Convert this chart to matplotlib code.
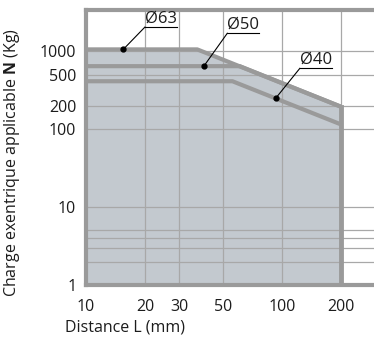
import numpy as np
import matplotlib
matplotlib.use("Agg")
import matplotlib.pyplot as plt

plt.rcParams['font.family'] = ['Open Sans', 'DejaVu Sans']
plt.rcParams['mathtext.fontset'] = 'custom'
plt.rcParams['mathtext.bf'] = 'Open Sans:bold'

# allowable eccentric load vs distance, per bore size
d63_L = [10, 37, 200]
d63_N = [1050, 1050, 194]
d50_L = [10, 61, 200]
d50_N = [640, 640, 194]
d40_L = [10, 56, 200]
d40_N = [410, 410, 115]

x_ticks = [10, 20, 30, 50, 100, 200]
y_ticks = [1, 10, 100, 200, 500, 1000]
y_grid = [2, 3, 4, 5, 10, 100, 200, 500, 1000]

labels = ["Ø63", "Ø50", "Ø40"]
dots = [(15.5, 1050), (40, 640), (93, 247)]
tags = [(20, 2030), (52.7, 1690), (123.7, 600)]

fill_c = "#c3c9cf"
line_c = "#9a9a9a"
grid_c = "#a8a8a8"
txt_c = "#1c1c1c"

fig = plt.figure(figsize=(3.74, 3.38), dpi=100)
ax = fig.add_axes([86 / 374, 1 - 285 / 338, 1 - 86 / 374, 275 / 338])
ax.set_xscale("log")
ax.set_yscale("log")
ax.set_xlim(10, 296)
ax.set_ylim(1, 3360)

ax.fill_between(d63_L, d63_N, 1, color=fill_c, lw=0, zorder=1)

for v in y_grid:
    ax.axhline(v, color=grid_c, lw=0.9, zorder=2)
for v in x_ticks[1:]:
    ax.axvline(v, color=grid_c, lw=0.9, zorder=2)

for L, N in [(d40_L, d40_N), (d50_L, d50_N), (d63_L, d63_N)]:
    ax.plot(L, N, color=line_c, lw=3, zorder=3, solid_capstyle="butt")
ax.plot([200, 200], [d63_N[-1], 1], color=line_c, lw=3.5, zorder=3)

tag_texts = []
for lab, (dx, dy), (tx, ty) in zip(labels, dots, tags):
    ax.plot([dx, tx], [dy, ty], color="black", lw=0.8, zorder=4)
    ax.plot(dx, dy, "o", color="black", ms=3.5, zorder=5)
    tag_texts.append(ax.text(tx, ty * 1.02, lab, fontsize=12, ha="left",
                             va="bottom", color=txt_c, zorder=5))

# underline under each tag
fig.canvas.draw()
r = fig.canvas.get_renderer()
inv = ax.transData.inverted()
for t, (tx, ty) in zip(tag_texts, tags):
    bb = t.get_window_extent(r)
    x0 = inv.transform((bb.x0, 0))[0]
    x1 = inv.transform((bb.x1, 0))[0]
    ax.plot([x0, x1], [ty, ty], color="black", lw=0.8, zorder=4)

for s in ["left", "bottom", "top"]:
    ax.spines[s].set_color(line_c)
    ax.spines[s].set_linewidth(3)
ax.spines["right"].set_visible(False)

ax.set_xticks(x_ticks)
ax.set_xticklabels([str(v) for v in x_ticks])
ax.set_yticks(y_ticks)
ax.set_yticklabels([str(v) for v in y_ticks])
ax.minorticks_off()
ax.tick_params(length=0, labelsize=11.5, labelcolor=txt_c)
ax.tick_params(axis="x", pad=10)
ax.tick_params(axis="y", pad=7)

fig.text(12 / 374, 1 - 163 / 338, r"Charge exentrique applicable $\mathbf{N}$ (Kg)",
         rotation=90, ha="center", va="center", fontsize=11.5, color=txt_c)
fig.text(65 / 374, 1 - 327 / 338, "Distance L (mm)", ha="left", va="center",
         fontsize=11.5, color=txt_c)

fig.savefig("out.png", dpi=100)
